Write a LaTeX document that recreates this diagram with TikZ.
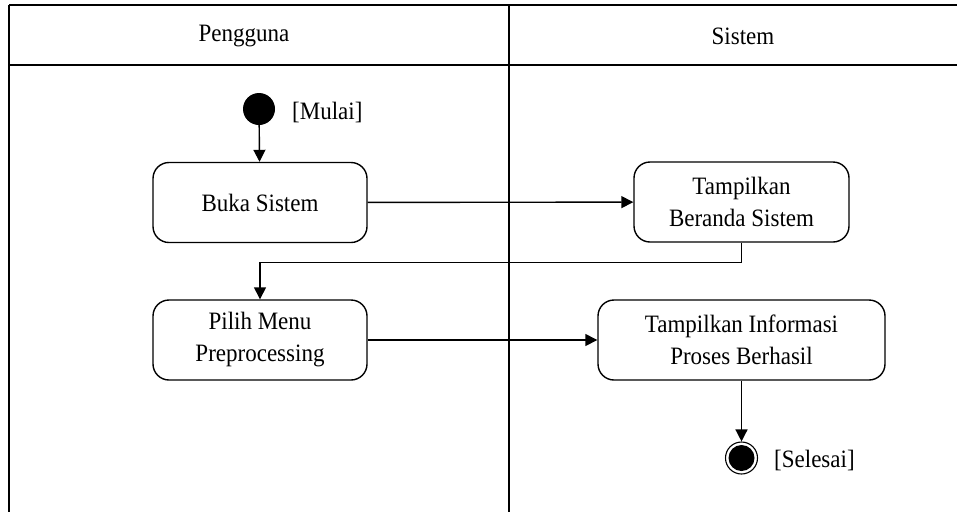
\documentclass[tikz,border=0pt]{standalone}
\usepackage{fontspec}
\setmainfont{Liberation Serif}[FakeStretch=0.92]
\usetikzlibrary{arrows.meta}
\begin{document}
\begin{tikzpicture}[x=1pt,y=-1pt,
  lane/.style={line width=1.8pt},
  act/.style={draw, line width=1.4pt, rounded corners=16pt, align=center,
    inner sep=0pt, minimum height=80pt, font=\fontsize{25}{32}\selectfont},
  flow/.style={line width=1.4pt, -{Triangle[length=12pt,width=12pt]}},
  lbl/.style={font=\fontsize{25}{32}\selectfont, inner sep=0pt, anchor=west},
  hdr/.style={font=\fontsize{25}{32}\selectfont, inner sep=0pt}]
\useasboundingbox (0,0) rectangle (957,512);
\fill[white] (0,0) rectangle (957,512);

% swimlane frame
\draw[lane] (9,5) -- (957,5);
\draw[lane] (9,65) -- (957,65);
\draw[lane] (9,5) -- (9,512);
\draw[lane] (509,5) -- (509,512);
\node[hdr] (h1) at (244,36) {Pengguna};
\node[hdr] (h2) at (743,36) {Sistem};

% initial and final states
\node[circle, fill=black, minimum size=32pt, inner sep=0pt] (start) at (259,109) {};
\node[lbl] (mulai) at (292,112) {[Mulai]};
\node[circle, draw, line width=1.1pt, minimum size=32pt, inner sep=0pt] (final) at (741.5,458) {};
\fill (final.center) circle (13pt);
\node[lbl] (selesai) at (774,460) {[Selesai]};

% activities
\node[act, minimum width=214pt] (buka) at (260,202.5) {Buka Sistem};
\node[act, minimum width=215pt] (beranda) at (741.5,202) {Tampilkan\\Beranda Sistem};
\node[act, minimum width=214pt] (pilih) at (260,340) {Pilih Menu\\Preprocessing};
\node[act, minimum width=287pt] (info) at (741.5,340) {Tampilkan Informasi\\Proses Berhasil};

% control flow
\draw[flow] (start) -- (buka);
\draw[flow] (buka) -- (beranda);
\draw[flow] (beranda.south) -- ++(0,20) -| (pilih.north);
\draw[flow] (pilih) -- (info);
\draw[flow] (info) -- (final);
\end{tikzpicture}
\end{document}
